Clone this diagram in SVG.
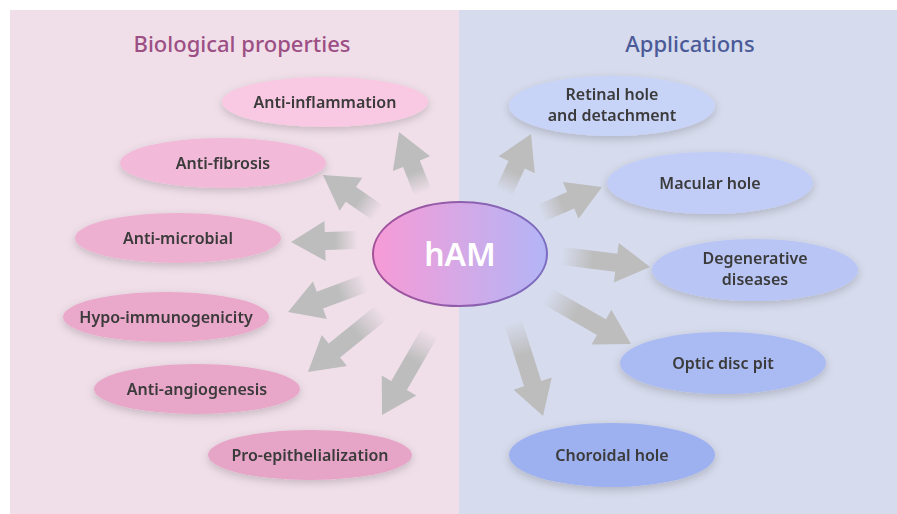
<svg xmlns="http://www.w3.org/2000/svg" width="897" height="514" viewBox="0 0 897 514">
<defs>
<style>
.lbl{font-family:"Noto Sans","Open Sans","DejaVu Sans",sans-serif;font-size:16px;fill:#3a3a3a;text-anchor:middle;font-weight:600}
.hd{font-family:"Noto Sans","Open Sans","DejaVu Sans",sans-serif;font-size:22px;text-anchor:middle;font-weight:500}
.arr{fill:url(#ag)}
.sh{filter:url(#ds)}
</style>
<linearGradient id="ag" x1="0" y1="0" x2="1" y2="0">
<stop offset="0" stop-color="#bdbdbd" stop-opacity="0"/>
<stop offset="0.35" stop-color="#bdbdbd" stop-opacity="1"/>
<stop offset="1" stop-color="#bdbdbd"/>
</linearGradient>
<linearGradient id="hg" x1="0" y1="0" x2="1" y2="0">
<stop offset="0" stop-color="#f79bd6"/>
<stop offset="1" stop-color="#b3b5f6"/>
</linearGradient>
<linearGradient id="hs" x1="0" y1="0" x2="1" y2="0">
<stop offset="0" stop-color="#a4509a"/>
<stop offset="1" stop-color="#7a6cc0"/>
</linearGradient>
<filter id="ds" x="-20%" y="-40%" width="140%" height="190%">
<feDropShadow dx="0" dy="3" stdDeviation="4" flood-color="#000" flood-opacity="0.18"/>
</filter>
</defs>
<rect x="0" y="0" width="897" height="514" fill="#ffffff"/>
<rect x="10" y="10" width="449" height="504" fill="#f0dfe9"/>
<rect x="459" y="10" width="438" height="504" fill="#d6dbed"/>
<text class="hd" x="242" y="52" fill="#9c4f84">Biological properties</text>
<text class="hd" x="690" y="52" fill="#4a5a98">Applications</text>

<g id="connectors">
<path class="arr" transform="translate(423,193) rotate(-111.5)" d="M0,-9 L31.5,-9 L31.5,-20 L65.5,0 L31.5,20 L31.5,9 L0,9 Z"/>
<path class="arr" transform="translate(378,213) rotate(-145.4)" d="M0,-9 L32.9,-9 L32.9,-20 L66.9,0 L32.9,20 L32.9,9 L0,9 Z"/>
<path class="arr" transform="translate(358,240) rotate(178.3)" d="M0,-9 L33,-9 L33,-20 L67,0 L33,20 L33,9 L0,9 Z"/>
<path class="arr" transform="translate(366,283) rotate(159.6)" d="M0,-9 L49.2,-9 L49.2,-20 L83.2,0 L49.2,20 L49.2,9 L0,9 Z"/>
<path class="arr" transform="translate(382,312) rotate(141)" d="M0,-9 L61.3,-9 L61.3,-20 L95.3,0 L61.3,20 L61.3,9 L0,9 Z"/>
<path class="arr" transform="translate(430,332) rotate(120)" d="M0,-9 L61.9,-9 L61.9,-20 L95.9,0 L61.9,20 L61.9,9 L0,9 Z"/>
<path class="arr" transform="translate(504,192) rotate(-65)" d="M0,-9 L30,-9 L30,-20 L64,0 L30,20 L30,9 L0,9 Z"/>
<path class="arr" transform="translate(541,213) rotate(-23.1)" d="M0,-9 L32.3,-9 L32.3,-20 L66.3,0 L32.3,20 L32.3,9 L0,9 Z"/>
<path class="arr" transform="translate(562,256) rotate(7.1)" d="M0,-9 L54.7,-9 L54.7,-20 L88.7,0 L54.7,20 L54.7,9 L0,9 Z"/>
<path class="arr" transform="translate(547,296) rotate(29.7)" d="M0,-9 L62.7,-9 L62.7,-20 L96.7,0 L62.7,20 L62.7,9 L0,9 Z"/>
<path class="arr" transform="translate(513,322) rotate(72.3)" d="M0,-9 L64.7,-9 L64.7,-20 L98.7,0 L64.7,20 L64.7,9 L0,9 Z"/>
</g>

<g id="hAM">
<ellipse cx="460" cy="254" rx="87" ry="52" fill="url(#hg)" stroke="url(#hs)" stroke-width="2"/>
<text x="460" y="266" font-family="'Noto Sans','Open Sans',sans-serif" font-size="32" font-weight="600" fill="#ffffff" text-anchor="middle">hAM</text>
</g>

<g id="anti-inflammation" class="sh"><ellipse cx="325" cy="102" rx="103" ry="25" fill="#f9c8e2"/><text class="lbl" x="325" y="108">Anti-inflammation</text></g>
<g id="anti-fibrosis" class="sh"><ellipse cx="223" cy="163" rx="103" ry="25" fill="#f2b9d9"/><text class="lbl" x="223" y="169">Anti-fibrosis</text></g>
<g id="anti-microbial" class="sh"><ellipse cx="178" cy="238" rx="103" ry="25" fill="#eeb0d1"/><text class="lbl" x="178" y="244">Anti-microbial</text></g>
<g id="hypo-immunogenicity" class="sh"><ellipse cx="166" cy="317" rx="103" ry="25" fill="#eaa8cb"/><text class="lbl" x="166" y="323">Hypo-immunogenicity</text></g>
<g id="anti-angiogenesis" class="sh"><ellipse cx="197" cy="389" rx="103" ry="25" fill="#e8a6c8"/><text class="lbl" x="197" y="395">Anti-angiogenesis</text></g>
<g id="pro-epithelialization" class="sh"><ellipse cx="310" cy="455" rx="102" ry="25" fill="#e6a4c6"/><text class="lbl" x="310" y="461">Pro-epithelialization</text></g>

<g id="retinal-hole" class="sh"><ellipse cx="612" cy="106" rx="103" ry="30" fill="#c8d3f8"/><text class="lbl" x="612" y="100">Retinal hole</text><text class="lbl" x="612" y="121">and detachment</text></g>
<g id="macular-hole" class="sh"><ellipse cx="710" cy="183" rx="103" ry="31" fill="#c1cdf7"/><text class="lbl" x="710" y="189">Macular hole</text></g>
<g id="degenerative-diseases" class="sh"><ellipse cx="755" cy="270" rx="103" ry="31" fill="#b9c6f5"/><text class="lbl" x="755" y="264">Degenerative</text><text class="lbl" x="755" y="285">diseases</text></g>
<g id="optic-disc-pit" class="sh"><ellipse cx="723" cy="363" rx="103" ry="31" fill="#aabaf2"/><text class="lbl" x="723" y="369">Optic disc pit</text></g>
<g id="choroidal-hole" class="sh"><ellipse cx="612" cy="455" rx="103" ry="32" fill="#9db0ef"/><text class="lbl" x="612" y="461">Choroidal hole</text></g>
</svg>
